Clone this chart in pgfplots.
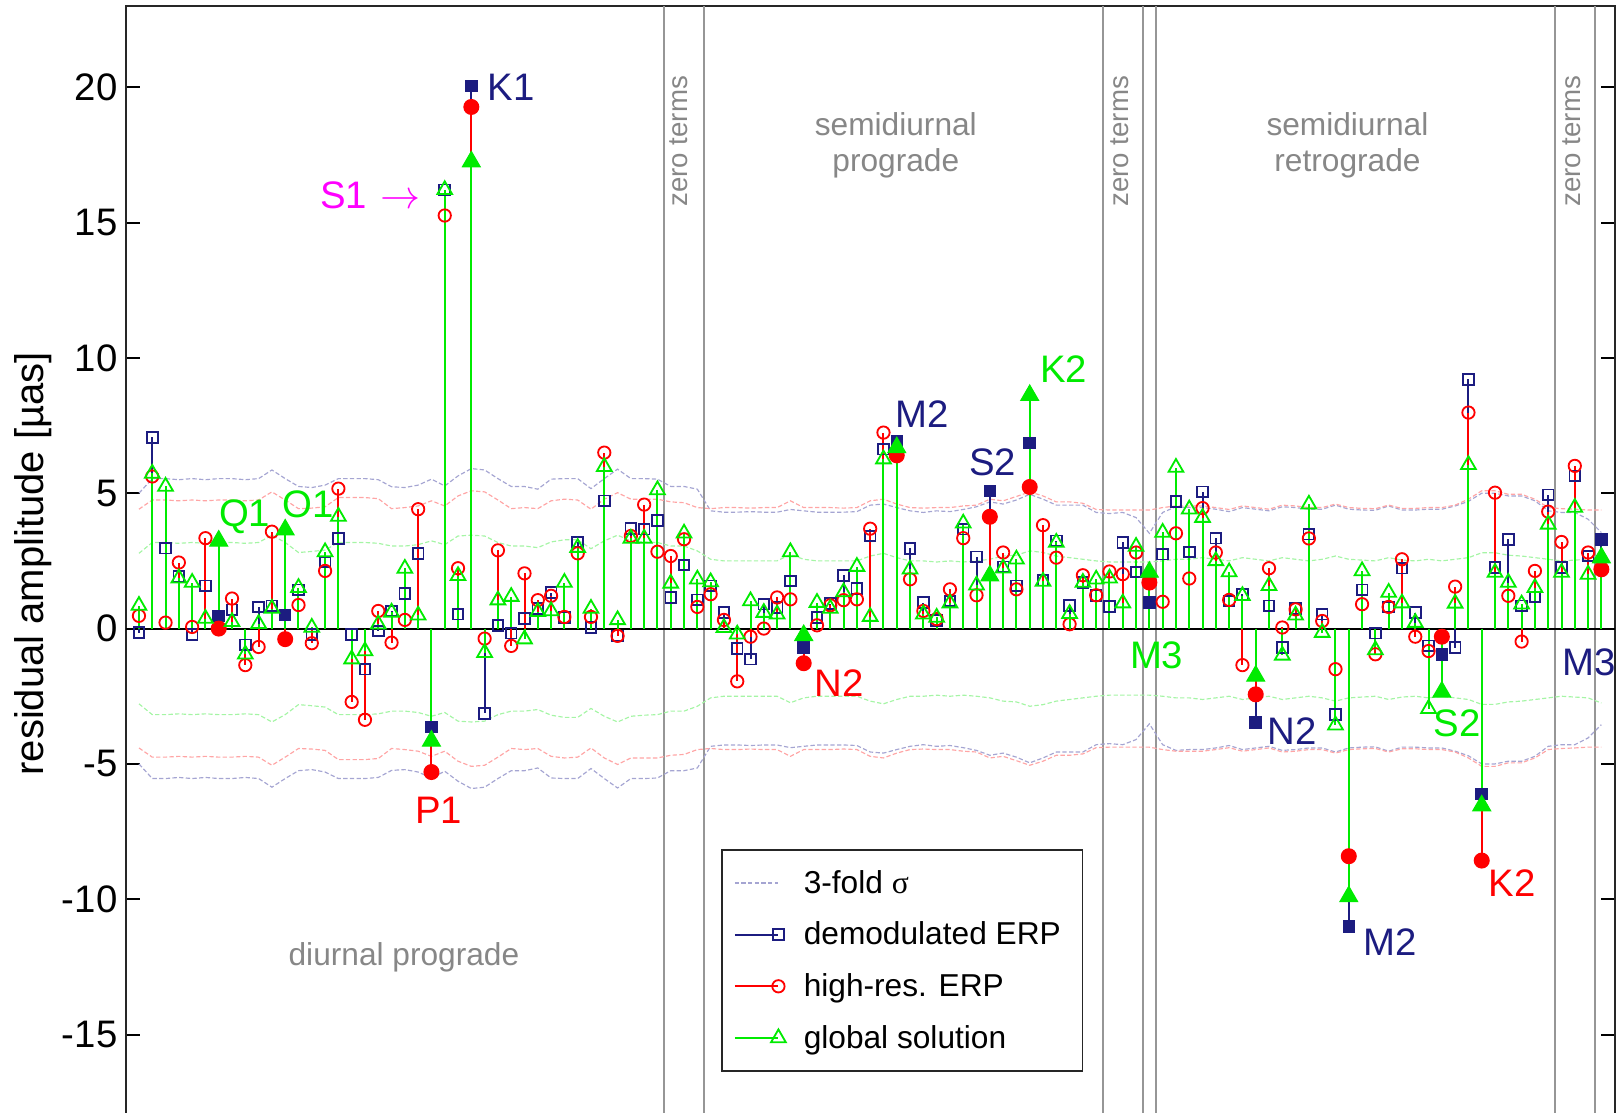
\documentclass[border=0pt]{standalone}
\usepackage{pgfplots}
\pgfplotsset{compat=1.18}
\usepackage{pgfplotstable}
\usepackage{fontspec}
\setmainfont{Liberation Sans}
\newfontfamily\serifgr{Liberation Serif}

\definecolor{navy}{RGB}{28,28,128}
\definecolor{myred}{RGB}{255,0,0}
\definecolor{mygreen}{RGB}{0,235,0}
\definecolor{sigB}{RGB}{165,165,210}
\definecolor{sigR}{RGB}{255,165,165}
\definecolor{sigG}{RGB}{165,245,165}
\definecolor{sepgray}{RGB}{150,150,150}
\definecolor{txtgray}{RGB}{135,135,135}
\definecolor{mag}{RGB}{255,0,255}

\newcommand{\tidefont}{\fontsize{11.5}{13}\selectfont}
\newcommand{\regfont}{\fontsize{9.5}{11}\selectfont}
\newcommand{\zerofont}{\fontsize{8.3}{10}\selectfont}

\pgfplotstableread{
k b r g sb sr sg
0 -0.15 0.47 0.85 5.00 4.41 2.78
1 7.06 5.62 5.73 5.54 4.75 3.18
2 2.97 0.22 5.25 5.54 4.75 3.18
3 1.92 2.44 1.86 5.50 4.72 3.15
4 -0.21 0.06 1.70 5.54 4.75 3.18
5 1.58 3.34 0.37 5.50 4.72 3.15
6 0.47 0.00 3.24 5.54 4.75 3.18
7 0.69 1.11 0.25 5.54 4.75 3.18
8 -0.60 -1.35 -0.95 5.50 4.72 3.15
9 0.80 -0.68 0.18 5.54 4.75 3.18
10 0.84 3.58 0.74 5.86 5.05 3.45
11 0.50 -0.39 3.65 5.54 4.75 3.18
12 1.43 0.87 1.51 5.25 4.43 2.81
13 -0.21 -0.54 0.04 5.21 4.45 2.85
14 2.46 2.13 2.83 5.30 4.50 2.90
15 3.33 5.17 4.14 5.54 4.84 3.18
16 -0.21 -2.71 -1.13 5.54 4.84 3.18
17 -1.50 -3.37 -0.83 5.54 4.84 3.18
18 -0.09 0.65 0.16 5.50 4.80 3.15
19 0.65 -0.52 0.60 5.24 4.43 3.05
20 1.29 0.32 2.22 5.21 4.47 3.05
21 2.78 4.41 0.49 5.30 4.53 3.10
22 -3.63 -5.30 -4.15 5.52 4.72 3.24
23 16.21 15.26 16.21 5.27 4.53 3.10
24 0.53 2.23 1.95 5.64 4.90 3.42
25 20.05 19.27 17.25 5.91 5.09 3.45
26 -3.13 -0.37 -0.89 5.86 5.05 3.42
27 0.12 2.89 1.05 5.54 4.75 3.18
28 -0.17 -0.64 1.18 5.25 4.43 3.05
29 0.37 2.04 -0.39 5.25 4.47 3.05
30 0.74 1.05 0.62 5.15 4.43 2.99
31 1.33 1.21 0.65 5.52 4.72 3.20
32 0.41 0.43 1.70 5.54 4.78 3.28
33 3.20 2.78 2.99 5.54 4.75 3.28
34 0.04 0.43 0.74 5.17 4.41 2.95
35 4.72 6.50 5.98 5.54 4.78 3.24
36 -0.27 -0.27 0.32 5.89 5.02 3.45
37 3.69 3.42 3.33 5.54 4.78 3.24
38 3.67 4.58 3.33 5.54 4.78 3.20
39 3.99 2.84 5.12 5.52 4.78 3.18
40 1.15 2.68 1.67 5.25 4.68 3.05
41 2.35 3.30 3.52 5.25 4.65 3.05
42 1.06 0.80 1.82 5.15 4.47 2.87
43 1.58 1.27 1.72 4.35 4.43 2.56
44 0.59 0.32 0.03 4.30 4.47 2.50
45 -0.74 -1.95 -0.21 4.30 4.47 2.50
46 -1.13 -0.30 1.02 4.32 4.45 2.50
47 0.90 0.00 0.59 4.30 4.47 2.50
48 0.78 1.15 0.53 4.30 4.47 2.50
49 1.76 1.08 2.83 4.40 4.72 2.74
50 -0.70 -1.28 -0.25 4.35 4.47 2.56
51 0.41 0.12 0.96 4.30 4.47 2.50
52 0.92 0.86 0.74 4.30 4.47 2.50
53 1.97 1.05 1.35 4.30 4.45 2.50
54 1.48 1.08 2.29 4.32 4.47 2.50
55 3.42 3.69 0.44 4.56 4.72 2.68
56 6.63 7.24 6.26 4.60 4.78 2.78
57 6.93 6.40 6.69 4.47 4.60 2.62
58 2.96 1.82 2.19 4.35 4.47 2.50
59 0.96 0.65 0.53 4.29 4.45 2.50
60 0.30 0.35 0.41 4.35 4.47 2.46
61 1.02 1.45 0.94 4.32 4.47 2.50
62 3.67 3.34 3.89 4.40 4.53 2.46
63 2.65 1.23 1.60 4.50 4.56 2.50
64 5.09 4.13 1.95 4.68 4.78 2.56
65 2.28 2.81 2.23 4.60 4.72 2.68
66 1.58 1.45 2.56 4.75 4.88 2.71
67 6.85 5.23 8.62 4.96 5.05 2.87
68 1.79 3.82 1.74 4.78 4.90 2.81
69 3.24 2.62 3.18 4.56 4.68 2.68
70 0.86 0.16 0.55 4.56 4.68 2.62
71 1.70 1.97 1.70 4.56 4.63 2.56
72 1.23 1.23 1.82 4.29 4.40 2.50
73 0.81 2.11 1.86 4.25 4.38 2.46
74 3.18 2.01 0.94 4.29 4.38 2.46
75 2.09 2.81 3.03 4.10 4.38 2.46
76 0.96 1.70 2.09 3.52 4.38 2.46
77 2.75 0.99 3.55 4.29 4.47 2.50
78 4.69 3.52 5.95 4.50 4.53 2.56
79 2.83 1.85 4.41 4.47 4.53 2.56
80 5.05 4.45 4.10 4.47 4.53 2.62
81 3.34 2.81 2.50 4.41 4.47 2.56
82 1.02 1.06 2.09 4.32 4.40 2.50
83 1.27 -1.35 1.21 4.47 4.53 2.62
84 -3.47 -2.43 -1.75 4.41 4.47 2.56
85 0.84 2.23 1.58 4.35 4.41 2.50
86 -0.70 0.04 -0.99 4.50 4.56 2.62
87 0.74 0.71 0.49 4.47 4.53 2.56
88 3.49 3.33 4.59 4.41 4.47 2.50
89 0.53 0.28 -0.15 4.41 4.47 2.56
90 -3.17 -1.50 -3.57 4.56 4.60 2.68
91 -11.01 -8.41 -9.90 4.41 4.47 2.56
92 1.43 0.90 2.13 4.38 4.44 2.53
93 -0.17 -0.95 -0.79 4.37 4.43 2.50
94 0.80 0.80 1.33 4.53 4.56 2.62
95 2.23 2.56 0.94 4.38 4.44 2.53
96 0.59 -0.30 0.22 4.38 4.44 2.50
97 -0.64 -0.83 -2.96 4.41 4.47 2.56
98 -0.95 -0.30 -2.34 4.41 4.47 2.50
99 -0.70 1.55 0.93 4.53 4.56 2.56
100 9.21 7.98 6.05 4.70 4.78 2.62
101 -6.12 -8.57 -6.54 5.00 5.09 2.80
102 2.25 5.02 2.07 5.00 5.09 2.80
103 3.30 1.21 1.70 4.90 4.96 2.71
104 0.84 -0.48 0.90 4.90 4.96 2.68
105 1.17 2.13 1.51 4.72 4.78 2.62
106 4.94 4.32 3.85 4.35 4.47 2.56
107 2.25 3.20 2.07 4.29 4.43 2.50
108 5.64 6.01 4.47 4.29 4.41 2.53
109 2.68 2.81 2.00 4.04 4.38 2.56
110 3.30 2.19 2.62 3.55 4.38 2.75
}\data

\pgfplotsset{
  mylegimg/.style={legend image code/.code={%
    \draw[mark repeat=2,mark phase=3,##1,sharp plot] plot coordinates {(0cm,0cm) (0.23cm,0cm) (0.46cm,0cm)};}},
  sigline/.style={line width=0.35pt, dash pattern=on 1.3pt off 0.7pt, mark=none},
}

\begin{document}
\begin{tikzpicture}
\begin{axis}[
  scale only axis,
  width=446.7pt, height=337.0pt,
  xmin=-1, xmax=111, ymin=-18.5, ymax=23,
  xtick=\empty,
  ytick={-15,-10,-5,0,5,10,15,20},
  yticklabels={-15,-10,-5,0,5,10,15,20},
  tick align=inside,
  major tick length=4.2pt,
  every tick/.style={black, line width=0.6pt},
  yticklabel style={font=\fontsize{11.5}{13}\selectfont, inner sep=0pt, xshift=-2.3pt},
  ylabel={residual amplitude [µas]},
  ylabel style={font=\fontsize{12}{14}\selectfont, at={(axis description cs:-0.0623,0.5034)}, anchor=center},
  axis line style={line width=0.6pt, black!85},
  clip=false,
  legend cell align=left,
  legend style={at={(axis description cs:0.3998,0.2493)}, anchor=north west,
    draw=black!85, line width=0.5pt, fill=white,
    font=\fontsize{9.5}{11}\selectfont,
    inner xsep=3.6pt, inner ysep=5pt, row sep=5.8pt,
    nodes={inner sep=0pt, text height=7.9pt, text depth=1.8pt},
    /tikz/every odd column/.append style={column sep=5.4pt}},
]
% separators
\draw[sepgray, line width=0.6pt] (axis cs:39.5,-18.5) -- (axis cs:39.5,23);
\draw[sepgray, line width=0.6pt] (axis cs:42.5,-18.5) -- (axis cs:42.5,23);
\draw[sepgray, line width=0.6pt] (axis cs:72.5,-18.5) -- (axis cs:72.5,23);
\draw[sepgray, line width=0.6pt] (axis cs:75.5,-18.5) -- (axis cs:75.5,23);
\draw[sepgray, line width=0.6pt] (axis cs:76.5,-18.5) -- (axis cs:76.5,23);
\draw[sepgray, line width=0.6pt] (axis cs:106.5,-18.5) -- (axis cs:106.5,23);
\draw[sepgray, line width=0.6pt] (axis cs:109.5,-18.5) -- (axis cs:109.5,23);

% 3-fold sigma
\addplot[sigB, sigline, mylegimg] table[x=k,y=sb]{\data};
\addlegendentry{3-fold {\serifgr σ}}
\addplot[sigB, sigline, forget plot] table[x=k,y expr=-\thisrow{sb}]{\data};
\addplot[sigR, sigline, forget plot] table[x=k,y=sr]{\data};
\addplot[sigR, sigline, forget plot] table[x=k,y expr=-\thisrow{sr}]{\data};
\addplot[sigG, sigline, forget plot] table[x=k,y=sg]{\data};
\addplot[sigG, sigline, forget plot] table[x=k,y expr=-\thisrow{sg}]{\data};

\draw[black, line width=0.6pt] (axis cs:-1,0) -- (axis cs:111,0);

% demodulated ERP
\addplot[ycomb, navy, line width=0.6pt, mark=square, mark size=1.6pt, mark options={line width=0.55pt, solid}, mylegimg] table[x=k,y=b]{\data};
\addlegendentry{demodulated ERP\hspace*{2.9pt}}
\addplot[only marks, navy, mark=square*, mark size=1.6pt, forget plot] coordinates {
(6,0.47)(11,0.50)(22,-3.63)(25,20.05)(50,-0.70)(57,6.93)(64,5.09)(67,6.85)(76,0.96)(84,-3.47)(91,-11.01)(98,-0.95)(101,-6.12)(110,3.30)};

% high-res ERP
\addplot[ycomb, myred, line width=0.6pt, mark=o, mark size=1.85pt, mark options={line width=0.55pt, solid}, mylegimg] table[x=k,y=r]{\data};
\addlegendentry{high-res. ERP}
\addplot[only marks, myred, mark=*, mark size=2.2pt, forget plot] coordinates {
(6,0.00)(11,-0.39)(22,-5.30)(25,19.27)(50,-1.28)(57,6.40)(64,4.13)(67,5.23)(76,1.70)(84,-2.43)(91,-8.41)(98,-0.30)(101,-8.57)(110,2.19)};

% global solution
\addplot[ycomb, mygreen, line width=0.6pt, mark=triangle, mark size=2.55pt, mark options={line width=0.55pt, solid}, mylegimg] table[x=k,y=g]{\data};
\addlegendentry{global solution}
\addplot[only marks, mygreen, mark=triangle*, mark size=3.0pt, forget plot] coordinates {
(6,3.24)(11,3.65)(22,-4.15)(25,17.25)(50,-0.25)(57,6.69)(64,1.95)(67,8.62)(76,2.09)(84,-1.75)(91,-9.90)(98,-2.34)(101,-6.54)(110,2.62)};

% tide labels
\node[navy, font=\tidefont, inner sep=0pt] at (axis cs:28.0,20.0) {K1};
\node[mag, font=\tidefont, inner sep=0pt] at (axis cs:17.4,16.0) {S1\hspace{4pt}$\rightarrow$};
\node[mygreen, font=\tidefont, inner sep=0pt] at (axis cs:7.95,4.13) {Q1};
\node[mygreen, font=\tidefont, inner sep=0pt] at (axis cs:12.72,4.6) {O1};
\node[myred, font=\tidefont, inner sep=0pt] at (axis cs:22.55,-6.7) {P1};
\node[navy, font=\tidefont, inner sep=0pt] at (axis cs:58.9,7.92) {M2};
\node[navy, font=\tidefont, inner sep=0pt] at (axis cs:64.2,6.14) {S2};
\node[mygreen, font=\tidefont, inner sep=0pt] at (axis cs:69.55,9.59) {K2};
\node[myred, font=\tidefont, inner sep=0pt] at (axis cs:52.65,-2.0) {N2};
\node[mygreen, font=\tidefont, inner sep=0pt] at (axis cs:76.55,-0.98) {M3};
\node[navy, font=\tidefont, inner sep=0pt] at (axis cs:86.76,-3.78) {N2};
\node[navy, font=\tidefont, inner sep=0pt] at (axis cs:94.1,-11.6) {M2};
\node[mygreen, font=\tidefont, inner sep=0pt] at (axis cs:99.14,-3.5) {S2};
\node[myred, font=\tidefont, inner sep=0pt] at (axis cs:103.3,-9.41) {K2};
\node[navy, font=\tidefont, inner sep=0pt] at (axis cs:109.07,-1.23) {M3};

% region labels
\node[txtgray, font=\regfont, inner sep=0pt] at (axis cs:19.93,-12.15) {diurnal prograde};
\node[txtgray, font=\regfont, inner sep=0pt, align=center] at (axis cs:56.93,17.85) {semidiurnal\\prograde};
\node[txtgray, font=\regfont, inner sep=0pt, align=center] at (axis cs:90.9,17.85) {semidiurnal\\retrograde};
\node[txtgray, font=\zerofont, inner sep=0pt, rotate=90] at (axis cs:40.6,18.0) {zero terms};
\node[txtgray, font=\zerofont, inner sep=0pt, rotate=90] at (axis cs:73.75,18.0) {zero terms};
\node[txtgray, font=\zerofont, inner sep=0pt, rotate=90] at (axis cs:107.75,18.0) {zero terms};

\coordinate (BL) at (axis cs:-1,-17.87);
\coordinate (TR) at (axis cs:111,23);
\end{axis}
\pgfresetboundingbox
\path[use as bounding box] ([xshift=-37.7pt]BL) rectangle ([xshift=2.8pt,yshift=1.8pt]TR);
\end{tikzpicture}
\end{document}
